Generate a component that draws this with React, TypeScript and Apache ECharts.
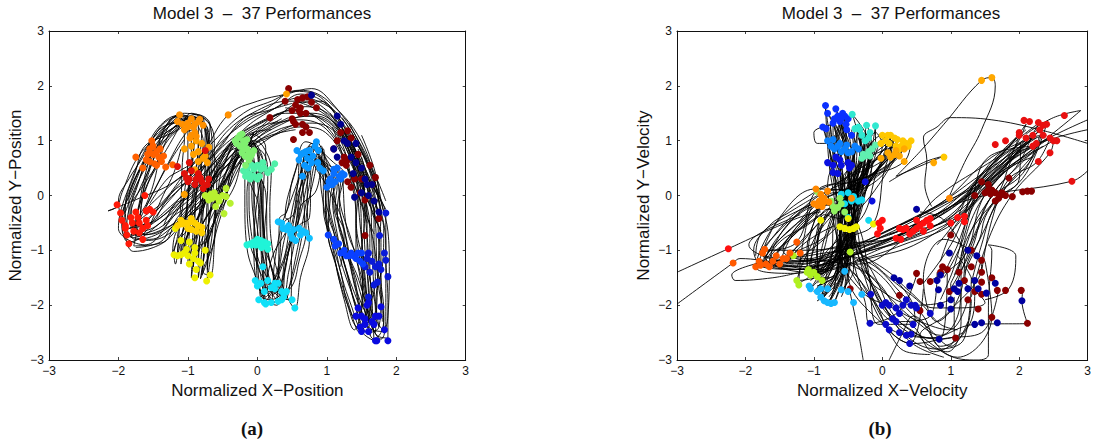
import React, { useEffect, useRef } from "react";
import * as echarts from "echarts";

const tickValues = [-3, -2, -1, 0, 1, 2, 3];
const titleText = "Model 3  \u2013  37 Performances";

// Panel (a) trajectories, flat x,y lists
const posA1 = [1.15,1.45,1.5,.8,1.72,.1,1.85,-.4,1.85,-1.1,1.88,-1.9,1.88,-2.6,1.72,-2.55,1.55,-1.95,1.45,-1.3,1.35,-.8,1.2,-.2,1.15,.3,1,.65,.85,.98,.72,.5,.72,-.3,.75,-.8,.62,-1.5,.54,-2.05,.38,-1.7,.22,-1,.18,-.2,.2,.45,.08,.9,-.05,1,-.38,.4,-.45,-.05,-.6,-.7,-.68,-1.2,-.72,-1.55,-.72,-1,-.68,-.3,-.62,.4,-.62,.95,-.72,1.35,-1.05,1.5,-1.45,1.05,-1.72,.7,-1.95,.05,-2.02,-.2,-2.15,-.28,-1.7,-.05,-1.2,.25,-.8,.75,-.42,1.47,0,1.72,.42,1.85,.78,1.95,1.1,1.65,1.5,.9,1.85,-.1];
const posA2 = [1.2,1.3,1.42,.7,1.6,.15,1.7,-.5,1.72,-1.2,1.78,-1.9,1.75,-2.4,1.6,-2.5,1.42,-2.05,1.3,-1.45,1.2,-1,1.05,-.3,1,.2,.92,.6,.8,.85,.68,.3,.6,-.4,.55,-.75,.45,-1.4,.35,-1.95,.2,-1.75,.12,-1,.08,-.1,.1,.5,0,.85,-.1,1,-.42,.35,-.55,-.1,-.75,-.65,-.85,-1.1,-.85,-1.5,-.8,-1,-.78,-.3,-.72,.4,-.7,.9,-.78,1.3,-1.02,1.42,-1.4,1.1,-1.6,.7,-1.8,.1,-1.95,-.4,-1.85,-.85,-1.4,-.5,-1,.05,-.6,.62,-.2,1.2,.2,1.55,.6,1.78,1,1.55,1.38,.9,1.75,-.05];
const posA3 = [1.3,1.15,1.48,.55,1.55,0,1.62,-.6,1.62,-1.3,1.65,-1.95,1.68,-2.65,1.5,-2.48,1.35,-2,1.22,-1.5,1.12,-.95,1,-.4,.98,.15,.88,.5,.65,.82,.58,.2,.5,-.5,.42,-.65,.32,-1.3,.25,-1.95,.1,-1.6,.05,-.9,.02,0,-.02,.42,-.08,.85,-.15,1.08,-.5,.3,-.65,-.2,-.8,-.55,-.98,-1.05,-.98,-1.3,-.92,-.6,-.88,.1,-.82,.8,-.8,1.25,-.95,1.4,-1.25,1.2,-1.5,.95,-1.72,.2,-1.88,-.55,-1.75,-.8,-1.3,-.6,-.85,0,-.5,.55,-.1,1.05,.3,1.45,.65,1.7,1.05,1.42,1.4,.7,1.7,-.3];
const posA4 = [1.1,1.35,1.35,.75,1.52,.2,1.58,-.5,1.58,-1.25,1.6,-1.85,1.55,-2.25,1.45,-2.4,1.3,-2,1.2,-1.4,1.08,-.9,.95,-.2,.95,.3,.9,.7,.75,.9,.62,.4,.45,-.2,.35,-.55,.25,-1.2,.18,-1.98,0,-1.55,-.02,-.85,-.08,.05,-.05,.5,-.12,.82,-.22,1.12,-.55,.4,-.72,-.02,-.9,-.5,-1.12,-.82,-1.15,-1.1,-1.05,-.5,-.98,.2,-.92,.85,-.92,1.3,-1.12,1.48,-1.3,1.3,-1.55,.85,-1.82,.1,-1.95,-.5,-1.92,-.72,-1.5,-.7,-1.1,-.15,-.7,.35,-.35,.95,.1,1.35,.5,1.55,1,1.32,1.32,.75,1.62,-.2];
const posA5 = [1.05,1.5,1.3,.95,1.5,.35,1.55,-.3,1.5,-1.1,1.52,-1.8,1.5,-2.1,1.42,-2.25,1.28,-1.85,1.15,-1.35,1.02,-.75,.98,-.1,1.02,.4,.95,.75,.78,.95,.7,.55,.58,-.1,.48,-.78,.38,-1.5,.3,-1.85,.15,-1.9,.02,-1.3,-.1,-.9,-.15,.05,-.12,.45,-.18,.75,-.3,1.02,-.62,.35,-.8,-.1,-1,-.5,-1.2,-1.08,-1.18,-1.25,-1.12,-.6,-1.05,.05,-1,.7,-1,1.2,-1.15,1.35,-1.42,1.15,-1.65,.75,-1.88,.05,-1.98,-.35,-2,-.6,-1.62,-.9,-1.25,-.45,-.95,.15,-.6,.8,-.25,1.3,.15,1.6,.55,1.9,.95,1.75,1.3,1,1.55,.1];
const posA6 = [1.25,1.05,1.4,.45,1.48,-.1,1.5,-.7,1.52,-1.4,1.5,-2,1.45,-2.35,1.4,-2.45,1.25,-1.9,1.12,-1.2,1.02,-.72,1.05,-.05,1.08,.25,1,.55,.6,.8,.65,.25,.68,-.5,.65,-.7,.55,-1.3,.42,-1.75,.22,-1.95,.1,-1.2,.05,-.88,.05,.1,.02,.55,-.05,.9,-.25,.98,-.5,.48,-.58,-.02,-.7,-.8,-.9,-.98,-.95,-1.5,-.88,-.8,-.82,-.1,-.8,.6,-.75,1.1,-.88,1.42,-1.1,1.38,-1.35,1.15,-1.5,.65,-1.65,.05,-1.78,-.65,-1.68,-.65,-1.2,-.3,-.75,.2,-.4,.7,0,1.2,.4,1.5,.8,1.5,1.2,1.2,1.5,.5,1.78,-.45];
const posA7 = [1.38,.95,1.55,.3,1.65,-.3,1.78,-.75,1.78,-1.5,1.82,-2.1,1.82,-2.48,1.65,-2.45,1.5,-2.1,1.38,-1.4,1.28,-1.05,1.15,-.3,1.2,.3,.98,.6,.82,.72,.75,.2,.62,-.7,.58,-.95,.48,-1.55,.4,-1.9,.28,-1.65,.15,-.95,.12,.05,.05,.35,.02,.78,-.2,1.05,-.35,.55,-.5,-.15,-.72,-.75,-.78,-1.25,-.8,-1.45,-.75,-.7,-.72,-.05,-.68,.65,-.7,1.15,-.85,1.38,-1.15,1.28,-1.45,.95,-1.6,.45,-1.72,-.25,-1.82,-.75,-1.55,-.55,-1.05,-.05,-.65,.45,-.3,1.05,.2,1.42,.7,1.62,1.1,1.4,1.45,.65,1.72,-.5];
const posA8 = [1.18,1.18,1.38,.62,1.45,.1,1.42,-.55,1.48,-1.2,1.55,-1.7,1.6,-2.3,1.52,-2.38,1.38,-1.85,1.25,-1.25,1.15,-.85,1.02,-.25,1.02,.22,.95,.48,.85,.65,.6,.1,.52,-.35,.38,-.5,.28,-1.4,.08,-1.75,-.02,-1.55,-.05,-.88,0,-.05,.08,.6,.05,.78,-.05,.95,-.4,.6,-.68,.1,-.85,-.4,-1.05,-.98,-1.05,-1.1,-.98,-.45,-.9,.35,-.85,.95,-.85,1.38,-.98,1.45,-1.2,1.38,-1.38,.98,-1.55,.5,-1.7,.1,-1.82,-.35,-1.72,-.75,-1.38,-.25,-.98,.32,-.58,.9,-.15,1.35,.3,1.62,.62,1.85,1.05,1.6,1.4,.85,1.68,.05];
const posA9 = [1.45,.85,1.62,.25,1.72,-.2,1.82,-.6,1.8,-1.3,1.72,-1.7,1.7,-2.2,1.55,-2.32,1.42,-1.75,1.32,-1.2,1.22,-.7,1.1,-.15,1.1,.42,1.05,.45,.9,.65,.82,.35,.7,-.55,.7,-.65,.6,-1.2,.5,-1.65,.32,-1.8,.2,-1.3,.1,-.85,.15,.25,.15,.35,.1,.75,-.15,.9,-.3,.65,-.42,.1,-.58,-.35,-.72,-1.05,-.72,-1.35,-.7,-.85,-.72,.1,-.75,.75,-.72,1.22,-.92,1.32,-1.08,1.25,-1.32,.95,-1.42,.6,-1.58,.2,-1.68,-.3,-1.62,-.72,-1.1,-.45,-.68,-.05,-.3,.55,.05,1.1,.5,1.4,.85,1.45,1.25,1.05,1.55,.4,1.85,-.25];
const posA10 = [1.22,1.42,1.45,.95,1.65,.4,1.75,-.1,1.85,-.9,1.85,-1.6,1.85,-2.3,1.78,-2.62,1.58,-2.2,1.4,-1.6,1.3,-.9,1.18,-.1,1.25,.38,1.1,.6,.7,.98,.55,.45,.4,-.4,.45,-.45,.22,-1.1,.05,-1.85,.02,-1.65,-.15,-.95,-.18,-.1,-.18,.35,-.2,.6,-.33,1,-.6,.55,-.72,.15,-.9,-.3,-1.18,-.7,-1.22,-1.05,-1.15,-.75,-1.1,-.1,-1.08,.6,-1.05,1.05,-1.18,1.45,-1.45,1.2,-1.65,.7,-1.85,.3,-2,-.1,-1.95,-.45,-1.78,-1.02,-1.5,-.95,-1.25,-.75,-.9,-.15,-.55,.4,-.1,.95,.35,1.3,.7,1.45,1.1,1.25,1.42,.4,1.78,-.65];
const posA11 = [1.32,1.32,1.58,.65,1.75,.05,1.68,-.35,1.68,-1,1.7,-1.55,1.62,-2.05,1.6,-2.42,1.45,-1.95,1.28,-1.35,1.15,-.7,1.08,0,1.12,.15,.98,.38,.92,.9,.78,.3,.75,-.4,.6,-.55,.4,-1.15,.22,-1.7,.12,-1.85,.08,-1.15,.02,-.8,-.05,.2,.12,.55,.12,.88,-.08,1.12,-.28,.8,-.52,.2,-.62,-.5,-.82,-.95,-.9,-1.2,-.85,-.95,-.8,-.4,-.7,.15,-.65,.7,-.68,1.3,-.88,1.48,-1.25,1.1,-1.5,.8,-1.75,.35,-1.85,-.1,-1.8,-.55,-1.45,-.45,-1.1,-.02,-.75,.55,-.45,1.15,0,1.55,.45,1.72,.9,1.72,1.25,1.25,1.6,.55,1.82,-.3];
const posA12 = [1.4,.7,1.52,.1,1.58,-.35,1.68,-.9,1.75,-1.7,1.82,-2.25,1.78,-2.5,1.68,-2.62,1.5,-1.85,1.42,-1.5,1.32,-1.1,1.22,-.45,1.05,.05,.88,.42,.72,.72,.62,.15,.55,-.55,.52,-.65,.35,-1.6,.28,-2,.05,-1.8,0,-.75,.02,-.25,-.12,.3,-.15,.68,-.22,.88,-.45,.75,-.68,.2,-.78,-.25,-1,-.7,-1.1,-1.25,-1.1,-.95,-1.02,-.3,-.95,.5,-.9,1.1,-1.05,1.3,-1.18,1.32,-1.5,1.05,-1.55,.55,-1.62,.25,-1.7,-.45,-1.78,-.92,-1.35,-.85,-1.15,-.4,-.78,.1,-.48,.5,-.05,.85,.45,1.25,.8,1.32,1.15,1.1,1.38,.25,1.68,-.7];
const posA13 = [1.08,1.25,1.28,.55,1.4,-.05,1.45,-.8,1.62,-1.5,1.65,-2.1,1.52,-2.45,1.48,-2.5,1.35,-2.15,1.18,-1.55,1.1,-1.05,1,-.5,.92,.1,.88,.55,.7,.75,.52,.35,.42,-.3,.32,-.42,.3,-1.45,.1,-1.95,.08,-1.4,.08,-.75,.08,.2,.02,.4,.02,.65,-.12,1.05,-.32,.2,-.55,-.35,-.65,-.95,-.78,-1.4,-.68,-1.45,-.62,-.9,-.6,-.2,-.58,.5,-.72,.98,-.82,1.45,-1.02,1.35,-1.15,1.45,-1.38,1.1,-1.45,.45,-1.58,-.1,-1.75,-.55,-1.6,-.82,-1.3,-.72,-.9,-.25,-.45,.3,-.2,.8,.25,1.1,.62,1.25,.98,1.15,1.3,.5,1.58,-.5];
const posA14 = [1.5,1.1,1.68,.5,1.8,-.2,1.88,-.65,1.9,-1.3,1.88,-2.2,1.82,-2.45,1.72,-2.3,1.6,-1.95,1.48,-1.05,1.4,-1,1.28,-.55,1.18,.45,1.02,.32,.95,.85,.85,.1,.62,-.2,.58,-.5,.5,-.85,.48,-1.9,.35,-1.88,.18,-1.55,.08,-.6,.02,.45,-.08,.28,-.12,.88,-.05,1.15,-.22,.65,-.45,.3,-.6,-.3,-.7,-1.1,-.82,-1.52,-.78,-1.2,-.7,-.5,-.65,-.1,-.72,.8,-.68,1.25,-.95,1.5,-1.15,1.2,-1.3,1.1,-1.62,.9,-1.75,.45,-1.9,-.2,-1.85,-.6,-1.65,-.4,-1.35,-.1,-1,.48,-.62,1,-.2,1.5,.2,1.72,.6,1.92,1.02,1.72,1.55,.85,1.78,-.4];
// Extra strands that fill the dense bands of panel (a)
const bandA1 = [.6,1.7,1,1.45,1.3,.9,1.42,.3,1.47,-.4,1.53,-1.2,1.57,-1.9,1.55,-2.3];
const bandA2 = [.4,1.6,.85,1.42,1.25,.8,1.5,.05,1.58,-.75,1.62,-1.5,1.7,-2.1,1.62,-2.55];
const bandA3 = [.7,1.8,1.15,1.5,1.55,.65,1.7,-.05,1.75,-.9,1.78,-1.6,1.8,-2.3];
const bandA4 = [.2,1.3,.6,1.38,1,1.2,1.3,.5,1.42,-.2,1.42,-1,1.52,-1.6,1.58,-2.15];
const bandA5 = [1.55,-2.4,1.35,-1.75,1.18,-1.1,1.08,-.55,.98,0,.98,.45,.88,.78];
const bandA6 = [1.62,-2.2,1.45,-1.5,1.35,-1.2,1.2,-.65,1.12,-.1,1.05,.35,.92,.62];
const bandA7 = [.92,.7,.78,.55,.62,-.05,.55,-.55,.42,-1,.32,-1.7,.2,-1.82];
const bandA8 = [.82,.88,.72,.25,.62,-.35,.48,-.9,.4,-1.3,.35,-1.75,.15,-1.75];
const bandA9 = [.68,.75,.6,.3,.48,-.4,.42,-.95,.35,-1.25,.2,-1.62,.08,-1.7];
const bandA10 = [.25,-1.8,.12,-1.45,0,-1.1,-.05,-.4,-.05,.2,-.1,.6,-.18,.95];
const bandA11 = [.32,-1.7,.18,-1.2,.1,-.7,.06,-.15,.02,.25,-.1,.75,-.25,1.05];
const bandA12 = [.18,-1.65,.02,-1.35,-.08,-.75,-.12,-.1,-.12,.25,-.15,.62,-.28,.95];
const bandA13 = [-.12,.95,-.3,.65,-.5,.1,-.72,-.35,-.9,-.8,-.98,-1.15];
const bandA14 = [-.18,.85,-.38,.5,-.6,-.15,-.78,-.5,-.88,-.85,-.92,-1.3];
const bandA15 = [-.25,.8,-.45,.42,-.7,.1,-.88,-.45,-1.08,-.9,-1.1,-1.05];
const bandA16 = [-1,-1.25,-.98,-.7,-.92,-.1,-.88,.45,-.85,.9,-.9,1.3];
const bandA17 = [-.92,-1.3,-.9,-.5,-.88,0,-.82,.5,-.78,1,-.85,1.25];
const bandA18 = [-.85,-1.25,-.82,-.55,-.78,.05,-.75,.55,-.72,1,-.8,1.38];
const bandA19 = [-1.08,-1,-1.02,-.5,-1,.1,-.95,.55,-.95,1,-1.02,1.32];
const bandA20 = [-.88,1.42,-1.1,1.35,-1.38,1,-1.55,.7,-1.7,.3,-1.82,-.25,-1.82,-.6];
const bandA21 = [-.95,1.3,-1.18,1.25,-1.35,.9,-1.48,.5,-1.62,.1,-1.72,-.3,-1.75,-.7];
const bandA22 = [-1,1.45,-1.25,1.4,-1.5,1.05,-1.62,.65,-1.78,.25,-1.9,-.15,-1.92,-.55];
const bandA23 = [-1.85,-.6,-1.55,-.5,-1.25,-.2,-1,.1,-.7,.5,-.4,.85,-.05,1.2,.3,1.35];
const bandA24 = [-1.72,-.72,-1.42,-.6,-1.18,-.35,-.9,-.1,-.62,.35,-.32,.8,.05,1.15,.45,1.42];
const bandA25 = [-1.7,-.6,-1.5,-.35,-1.3,-.05,-1.05,.3,-.75,.55,-.45,.95,-.1,1.25,.3,1.5];
const bandA26 = [-1.85,-.75,-1.55,-.8,-1.2,-.55,-.95,-.25,-.72,.05,-.5,.6,-.15,1.1,.2,1.2];
const bandA27 = [-1.75,-.95,-1.4,-.85,-1.25,-.6,-1.02,-.3,-.82,.2,-.55,.75,-.2,1.05];
const bandA28 = [-1.6,-.45,-1.35,-.15,-1.12,.12,-.85,.45,-.55,.85,-.2,1.4,.15,1.55,.5,1.68];
const bandA29 = [-1.9,-.3,-1.7,.3,-1.42,.85,-1.15,1.25,-.95,1.35];
const bandA30 = [-1.72,-.5,-1.48,.1,-1.28,.6,-1.02,1.15,-.9,1.2];
const bandA31 = [-1.6,-.2,-1.42,.25,-1.22,.7,-1.05,1.02];
const bandA32 = [-1.8,-.1,-1.58,.3,-1.35,.75,-1.1,1.3];
const bandA33 = [-1.55,-.55,-1.35,.02,-1.2,.42,-1.1,.85];
const bandA34 = [-1.65,-.3,-1.4,0,-1.22,.22,-1,.42];
const bandA35 = [-1.45,-.4,-1.25,.02,-1.05,.22,-.85,.3];
const bandA36 = [-1.55,-.15,-1.3,.3,-1.12,.45,-.9,.6];
const bandA37 = [-1.35,-.55,-1.18,-.15,-1,-.05,-.85,.1];
const bandA38 = [-.45,.05,-.3,.5,-.1,.9,.2,1.1,.55,1.2];
const bandA39 = [-.55,-.25,-.4,.15,-.22,.6,-.02,.95,.3,1.2,.6,1.3];
const bandA40 = [-.7,-.35,-.52,.15,-.35,.7,-.1,1.05,.35,1.4];
const bandA41 = [1.5,.7,1.62,.05,1.65,-.85,1.68,-1.7,1.75,-2.4];
const bandA42 = [1.35,.85,1.45,.4,1.52,-.2,1.55,-1,1.6,-1.6,1.65,-2.4];
const bandA43 = [1.62,.3,1.78,-.3,1.75,-1,1.72,-2,1.7,-2.5];
const bandA44 = [1.2,-1.3,1.25,-.7,1.12,-.2,1.15,.2,1.02,.5];

// Panel (b) trajectories
const velB1 = [1,-1.6,1,-1.85,.5,-2,0,-1.75,-.35,-1.3,-.5,-.7,-.6,0,-.62,.5,-.7,1.3,-.55,.9,-.5,.2,-.5,-.5,-.55,-1.1,-.85,-1.85,-.6,-1.2,-.55,-.5,-.55,-.05,-.35,.6,-.3,1.1,-.2,.75,-.35,.2,-.55,-.3,-.8,-.25,-1,-.9,-1.05,-1.4,-.7,-1.2,-.5,-.85,-.45,-.6,-.3,.3,.15,1,.1,.7,-.4,.2,-.9,-.1,-1.4,-.55,-1.65,-1.2,-1.1,-1.3,-.4,-1.05,.35,-.65,1,-.25,1.7,.5,2.2,1.15,2,.6,1.6,0,1.35,-.7,1,-1.6];
const velB2 = [.8,-1.4,.7,-2.2,.2,-2.3,-.15,-1.9,-.45,-1.4,-.6,-.8,-.72,.1,-.78,.6,-.83,1.6,-.75,.95,-.65,.3,-.6,-.4,-.7,-1.2,-1,-1.75,-.72,-1.3,-.65,-.55,-.62,0,-.42,.7,-.4,1.25,-.28,.75,-.48,.1,-.65,-.2,-.95,-.15,-1.15,-.8,-1.22,-1.6,-.85,-1.3,-.6,-.95,-.55,-.55,-.4,.4,0,1.1,.05,.78,-.55,.3,-1,.05,-1.55,-.5,-1.85,-1.3,-1.3,-1.42,-.55,-1.15,.2,-.75,.85,-.35,1.55,.45,2.1,1.3,1.9,.8,1.4,.05,1.15,-.9,.9,-1.5];
const velB3 = [1.3,-1.5,1.2,-2.6,.8,-2.8,.3,-2.5,-.1,-1.7,-.4,-.9,-.5,.1,-.5,.6,-.55,1.4,-.45,.85,-.42,.15,-.4,-.6,-.45,-1,-.7,-1.95,-.5,-1.15,-.48,-.4,-.45,0,-.28,.5,-.23,1.28,-.15,.85,-.3,.25,-.45,-.25,-.7,-.28,-.95,-1,-.95,-1.48,-.6,-1.1,-.42,-.75,-.38,-.57,-.2,.2,.3,.95,.25,.72,-.3,.15,-.85,-.2,-1.3,-.7,-1.5,-1.25,-1,-1.22,-.3,-.95,.5,-.6,1.1,-.15,1.85,.6,2.35,1.28,2.2,.7,1.75,.05,1.5,-.6,1.2,-1.4];
const velB4 = [1.5,-1.2,1.6,-2.2,1.1,-2.95,.6,-2.6,0,-2,-.3,-1.1,-.65,-.1,-.7,.45,-.87,1.25,-.8,1,-.7,.35,-.65,-.3,-.6,-1.3,-.95,-1.65,-.65,-1.4,-.6,-.65,-.5,.05,-.3,.75,-.35,1.05,-.25,.65,-.42,.05,-.6,-.4,-.75,-.1,-1.05,-.7,-1.1,-1.45,-.75,-1.35,-.55,-.8,-.48,-.62,-.25,.55,.2,1.05,.18,.72,-.35,.28,-.95,.1,-1.25,-.85,-1.75,-1.05,-1.2,-1.2,-.45,-.92,.25,-.55,.9,-.1,1.6,.7,2.3,1.1,2.05,.4,1.55,-.1,1.3,-1,.95,-1.8];
const velB5 = [.6,-1.7,.4,-2.7,.05,-2.4,-.3,-1.6,-.55,-1.2,-.7,-.55,-.8,.2,-.72,.7,-.72,1.32,-.62,.8,-.55,.1,-.45,-.7,-.52,-1.25,-.8,-1.97,-.55,-1.3,-.5,-.6,-.6,.02,-.45,.45,-.33,1.2,-.18,.72,-.25,.3,-.5,-.15,-.7,-.35,-.88,-1.1,-1,-1.4,-.65,-1.25,-.45,-.9,-.42,-.6,-.15,.35,.42,1,.32,.62,-.2,.35,-.8,.08,-1.2,-.45,-1.7,-1.15,-1.15,-1.35,-.5,-1.1,.4,-.8,1.15,-.35,1.9,.55,2.45,1.05,2.25,.6,1.85,.3,1.6,-.45,1.45,-1.4];
const velB6 = [.95,-1.3,.85,-2.6,.35,-2.55,-.2,-2.1,-.5,-1.5,-.55,-.6,-.58,.3,-.48,.55,-.68,1.58,-.5,.78,-.48,.3,-.55,-.55,-.5,-1.05,-.75,-1.9,-.6,-1.05,-.52,-.35,-.35,-.1,-.2,.55,-.1,1.27,-.1,.92,-.32,.35,-.6,-.15,-.65,-.22,-.95,-.85,-.88,-1.55,-.55,-1.3,-.4,-.8,-.5,-.42,-.05,.5,.12,1.1,.08,.78,-.5,.1,-.97,.12,-1.5,-.4,-1.8,-1.2,-1.35,-1.2,-.6,-1,.05,-.8,.7,-.42,1.35,.25,2,1.1,1.8,.5,1.45,-.1,1.2,-1.1,.7,-1.55];
const velB7 = [1.7,-1.7,1.45,-2.5,.95,-2.6,.45,-2.7,.05,-2.35,-.35,-1.1,-.45,-.3,-.45,.55,-.8,1.5,-.6,.95,-.45,.05,-.42,-.35,-.62,-.95,-.9,-1.85,-.7,-1.45,-.58,-.7,-.42,-.02,-.15,.8,-.44,1.48,-.3,.68,-.42,.15,-.5,-.05,-.72,-.2,-1.15,-1.2,-1.25,-1.55,-.9,-1.45,-.62,-.98,-.62,-.57,-.35,.15,.05,1,.25,.85,-.25,.3,-.85,-.05,-1.3,-.35,-1.72,-.98,-1.25,-1,-.25,-.85,.6,-.45,1.25,0,2.05,.9,2.3,1.33,1.7,.7,1.35,0,1.05,-1.3,.85,-1.9];
const velB8 = [2.05,-1.75,2.04,-1.92,2.12,-2.33,1.35,-2.35,.7,-2.6,.1,-2.2,-.25,-1.3,-.38,-.5,-.52,.6,-.65,1.45,-.42,.7,-.35,-.2,-.5,-1.15,-.55,-1.72,-.45,-1,-.42,-.15,-.3,.4,-.25,1,-.2,.55,-.38,0,-.68,-.32,-.72,-.2,-1.02,-1.05,-1.08,-1.35,-.72,-1.15,-.52,-.8,-.13,-.52,.08,.65,.38,.9,.2,.82,-.45,.4,-.92,-.1,-1.45,-.9,-1.6,-1.2,-1.05,-1.4,-.2,-1.15,.55,-.85,1.4,-.05,1.95,.75,2.4,1.3,2.1,.4,1.65,-.2,1.45,-.9,1.3,-1.6];
const velB9 = [.5,-1.45,.25,-2.1,-.18,-2.33,-.25,-1.95,-.42,-1.2,-.5,-.4,-.68,.3,-.72,.42,-.58,1.5,-.7,.85,-.6,.15,-.62,-.75,-.65,-.9,-1.05,-1.7,-.75,-1.15,-.7,-.4,-.55,-.15,-.4,.35,-.35,1.25,-.25,.72,-.4,-.1,-.5,-.35,-.6,-.15,-.85,-.8,-.95,-1.5,-.8,-1.1,-.65,-.75,-.5,-.4,-.28,.65,.1,1.1,.12,.7,-.32,.1,-.8,.02,-1.1,-.75,-1.6,-1.3,-.9,-1.35,-.35,-1.18,.3,-.9,1.05,-.5,1.65,.3,2.5,1,2.45,.78,1.9,.02,1.55,-.8,1.3,-1.85];
const velB10 = [1.1,-1.1,1.35,-1.75,1.25,-2.4,.83,-2.62,.25,-2.3,-.1,-1.5,-.42,-.65,-.48,.45,-.62,1.35,-.38,.9,-.55,.25,-.52,-.25,-.42,-1.35,-.6,-1.72,-.52,-.95,-.4,-.3,-.3,-.08,-.25,.7,-.1,1.15,0,.9,-.28,.4,-.62,-.05,-.62,-.05,-.8,-.7,-1.3,-1.1,-.95,-1.2,-.55,-1.05,-.38,-.45,-.1,.45,.35,.95,.32,.85,-.1,.35,-.78,-.12,-1.38,-.65,-1.82,-1.3,-1.4,-1.3,-.7,-1.2,.1,-.7,.95,-.45,1.45,.4,2.15,1.05,1.65,.35,1.3,-.15,1,-.9,.6,-1.6];
const velB11 = [.2,-1.55,.45,-2,.48,-2.35,-.05,-2.35,-.2,-1.4,-.35,-.55,-.62,-.1,-.6,.65,-.55,1.45,-.65,.9,-.38,.15,-.55,-.85,-.72,-1.05,-.88,-1.85,-.62,-1.38,-.4,-.8,-.35,-.1,-.22,.45,-.18,.95,-.15,.8,-.2,.2,-.5,-.2,-.75,-.28,-1.1,-.95,-1.1,-1.4,-.78,-1.5,-.58,-1.1,-.42,-.65,-.32,.2,.18,1.05,.05,.68,-.45,.05,-.88,-.2,-1.2,-.6,-1.55,-1.1,-1.1,-1.15,-.35,-1.25,.45,-.7,1.2,-.25,1.55,.7,2.28,.9,1.95,.75,1.72,.1,1.42,-.55,1.05,-1.75];
const velB12 = [1.25,-1.9,.98,-2.45,.55,-2.3,.15,-2.05,-.3,-1.75,-.62,-1,-.55,.2,-.68,.62,-.76,1.3,-.72,.85,-.58,.35,-.68,-.5,-.6,-1.4,-.95,-1.92,-.58,-1.25,-.62,-.45,-.5,.02,-.32,.5,-.25,1.15,-.3,.7,-.52,-.02,-.62,-.42,-.85,-.35,-.98,-1.25,-1.02,-1.45,-.82,-1.38,-.52,-.75,-.55,-.62,-.38,.5,.22,.9,.15,.75,-.38,.18,-.9,.02,-1.52,-.75,-1.75,-1.25,-1.2,-1.1,-.48,-.88,.28,-.72,.78,-.05,1.5,.55,2.02,.95,2,.3,1.68,-.05,1.25,-.75,1.1,-1.45];

// Long strays and loops in panel (b)
const strayB1 = [-3,-1.4,-2.25,-.97,-1.6,-.6,-1.1,-.35,-.9,-.3];
const strayB2 = [-3,-1.98,-2.18,-1.23,-2.08,-1.15,-1.5,-1.25,-1,-1.4];
const strayB3 = [-.45,-1.1,.4,-.68,1.2,-.1,2.77,.26,3,.45];
const strayB4 = [-.1,-.75,.7,-.25,1.7,.4,2.9,1.55,2.5,1.42,2.1,1.12];
const strayB5 = [.1,-.72,1,-.2,2,.75,3,1.38];
const strayB6 = [.25,-.55,1.1,0,2.1,.85,3,1.2];
const strayB7 = [.1,.25,.6,.6,.9,.72,.2,.35,.55,.8,.9,1.3,1.45,2.1,1.6,2.15,1.65,2,1.45,1.2,1.2,.6,.95,-.1];
const strayB8 = [.72,-.2,.62,.2,.65,.65,.6,1.05,.8,1.25,1,1.42,1.6,1.38,2.3,1.2,3,.95];
const strayB9 = [-.48,-1.72,-.35,-2.5,-.28,-3];
const strayB10 = [.1,-3,.3,-2.5,.45,-2.2,.95,-2.9,1.4,-3,1.55,-2.9,1.55,-2,1.6,-1,1.55,-.9,1.95,-1.1,1.85,-1.7,1.5,-1.9];
const strayB11 = [-.7,1.3,-1,1.15,-.95,.95,-.7,.95];
const strayB12 = [-1.7,-1.2,-2.2,-1.45,-2.15,-1.55,-1.6,-1.5,-1.2,-1.4];
const strayB13 = [-1.2,-.35,-1.8,-.7,-1.95,-.9,-1.75,-1.1,-1.3,-1.25];
const strayB14 = [.55,-.3,.9,-.45,1.2,-1.2,1.1,-1.9,.8,-2.3,.6,-1.5,.9,-.8,1.45,-1.3,.95,-2.15,.55,-2.55,.95,-2.85,1.15,-2.3,1.15,-1.2];
// Extra strands that fill the dense bands of panel (b)
const bandB1 = [-.8,1.2,-.75,.6,-.68,0,-.62,-.6,-.7,-1.15,-.95,-1.6];
const bandB2 = [-.7,1.1,-.62,.55,-.58,-.1,-.6,-.7,-.65,-1.3,-.88,-1.75];
const bandB3 = [-.55,1.25,-.5,.6,-.48,-.2,-.52,-.85,-.6,-1.45,-.78,-1.85];
const bandB4 = [-.45,1.2,-.4,.5,-.42,-.3,-.45,-.9,-.5,-1.5,-.6,-1.85];
const bandB5 = [-.3,1.1,-.35,.45,-.38,-.2,-.5,-.8,-.7,-1.2,-1,-1.45];
const bandB6 = [-.18,.9,-.28,.2,-.45,-.5,-.68,-1,-.9,-1.2,-1.2,-1.35];
const bandB7 = [-.05,.95,-.2,.3,-.35,-.45,-.55,-.95,-.8,-1.3,-1.05,-1.55];
const bandB8 = [.05,.85,-.1,.35,-.25,-.3,-.5,-.7,-.62,-1.15,-.7,-1.7];
const bandB9 = [.2,.7,-.05,.2,-.3,-.2,-.55,-.5,-.65,-1,-.65,-1.55];
const bandB10 = [-.9,-.05,-1.25,-.35,-1.55,-.7,-1.75,-1.05,-1.5,-1.28,-1,-1.22,-.55,-1];
const bandB11 = [-.85,-.15,-1.15,-.55,-1.4,-.85,-1.62,-1.1,-1.35,-1.22,-.9,-1.15,-.45,-1.05];
const bandB12 = [-.95,0,-1.35,-.3,-1.65,-.55,-1.88,-1,-1.7,-1.32,-1.2,-1.35,-.7,-1.15];
const bandB13 = [-.8,-.1,-1.1,-.4,-1.3,-.65,-1.45,-1,-1.3,-1.12,-.85,-1.05,-.4,-.95];
const bandB14 = [-.75,-.3,-1,-.6,-1.2,-.85,-1.35,-1.15,-1.1,-1.2,-.7,-1.02,-.3,-.9];
const bandB15 = [-.55,-1.15,-.15,-.95,.25,-.72,.6,-.45,1,-.2,1.45,.25,1.9,.75,2.25,1.05];
const bandB16 = [-.6,-1.05,-.1,-.8,.4,-.5,.8,-.25,1.2,.05,1.6,.45,2,.95,2.3,1.22];
const bandB17 = [-.5,-1,0,-.68,.45,-.42,.9,-.1,1.35,.3,1.75,.65,2.15,1,2.4,1.1];
const bandB18 = [-.45,-1.1,.1,-.9,.55,-.7,.95,-.4,1.3,0,1.65,.35,2,.65,2.35,.9];
const bandB19 = [-.35,-1.15,.2,-.85,.7,-.6,1.1,-.3,1.45,.1,1.8,.55,2.15,.85,2.45,1.05];
const bandB20 = [2.2,1.05,1.95,.75,1.7,.4,1.45,.05,1.25,-.4,1.1,-.9,.95,-1.3];
const bandB21 = [2.35,1,2,.55,1.75,.25,1.55,-.1,1.35,-.5,1.2,-1,1.05,-1.45];
const bandB22 = [2.1,1.2,1.8,.85,1.55,.5,1.3,.1,1.2,-.35,1,-.7,.85,-1.2];
const bandB23 = [2.25,.8,1.9,.3,1.65,-.1,1.5,-.4,1.42,-.8,1.25,-1.2,1.2,-1.6];
const bandB24 = [-.5,-1.25,-.2,-1.45,.1,-1.85,.45,-2.25,.85,-2.55,1.1,-2.2,1.15,-1.7];
const bandB25 = [-.45,-1.1,-.1,-1.3,.25,-1.75,.6,-2.2,.85,-2.75,1.2,-2.5,1.3,-1.9];
const bandB26 = [-.55,-1.05,-.25,-1.25,.05,-1.55,.35,-2.05,.7,-2.45,1,-2.75,1.25,-2.3];
const bandB27 = [-.4,-1.25,-.05,-1.6,.2,-2.05,.5,-2.45,.75,-2.85,1.05,-2.6,1.05,-1.85];
const bandB28 = [-.35,-1.05,.1,-1.4,.4,-1.75,.75,-2.05,1.05,-2.05,1.5,-1.95,1.2,-1.6];
const bandB29 = [-.7,-.55,-1,-.75,-1.25,-1,-1.4,-1.25];
const bandB30 = [-.85,-.3,-1.2,-.6,-1.5,-.85,-1.7,-1.18];
const bandB31 = [-.6,-.5,-.9,-.85,-1.15,-1.1,-1.25,-1.3];
const bandB32 = [-1,-.15,-1.45,-.42,-1.78,-.72,-1.85,-1.1];
const bandB33 = [-.7,-.15,-1.05,-.5,-1.35,-.75,-1.55,-1.05];
const bandB34 = [-.5,-.65,-.8,-1,-.95,-1.25,-1.15,-1.4];
const bandB35 = [.95,-.75,1.2,-.3,1.4,.2,1.7,.6,2.1,.95];
const bandB36 = [.8,-.9,1.05,-.5,1.25,0,1.55,.55,1.95,1.05];
const bandB37 = [1.15,-1.1,1.3,-.45,1.55,.1,1.85,.5,2.2,.7];
const bandB38 = [-.3,-1.35,0,-1.95,.25,-2.45,.5,-2.75,.9,-2.95];
const bandB39 = [-.25,-1.1,.15,-1.55,.55,-1.95,.85,-2.35,1.1,-2.45];
const bandB40 = [-.42,-1.4,-.1,-1.95,.1,-2.5,.35,-2.85,.7,-2.9];

const positionPaths = [posA1,posA2,posA3,posA4,posA5,posA6,posA7,posA8,posA9,posA10,posA11,posA12,posA13,posA14,bandA1,bandA2,bandA3,bandA4,bandA5,bandA6,bandA7,bandA8,bandA9,bandA10,bandA11,bandA12,bandA13,bandA14,bandA15,bandA16,bandA17,bandA18,bandA19,bandA20,bandA21,bandA22,bandA23,bandA24,bandA25,bandA26,bandA27,bandA28,bandA29,bandA30,bandA31,bandA32,bandA33,bandA34,bandA35,bandA36,bandA37,bandA38,bandA39,bandA40,bandA41,bandA42,bandA43,bandA44];
const velocityPaths = [velB1,velB2,velB3,velB4,velB5,velB6,velB7,velB8,velB9,velB10,velB11,velB12,strayB1,strayB2,strayB3,strayB4,strayB5,strayB6,strayB7,strayB8,strayB9,strayB10,strayB11,strayB12,strayB13,strayB14,bandB1,bandB2,bandB3,bandB4,bandB5,bandB6,bandB7,bandB8,bandB9,bandB10,bandB11,bandB12,bandB13,bandB14,bandB15,bandB16,bandB17,bandB18,bandB19,bandB20,bandB21,bandB22,bandB23,bandB24,bandB25,bandB26,bandB27,bandB28,bandB29,bandB30,bandB31,bandB32,bandB33,bandB34,bandB35,bandB36,bandB37,bandB38,bandB39,bandB40];

// Panel (a) dots, grouped by phase colour
const aRedStart = [[-2.02,-.17],[-1.97,-.32],[-1.95,-.45],[-1.9,-.55],[-1.88,-.72],[-1.9,-.6],[-1.85,-.88],[-1.8,-.5],[-1.78,-.65],[-1.72,-.4],[-1.7,-.68],[-1.65,-.8],[-1.6,-.28],[-1.6,-.45],[-1.75,-.3],[-1.58,-.55],[-1.62,0],[-1.55,-.25],[-1.5,-.3],[-1.82,-.4],[-1.7,-.5],[-1.65,-.6]];
const aOrangeRed = [[-1.75,.7],[-1.65,.5],[-1.6,.65],[-1.55,.85],[-1.52,1],[-1.5,.75],[-1.48,.58],[-1.42,.7],[-1.4,.85],[-1.38,.62],[-1.35,.72],[-1.32,.52],[-1.5,.9],[-1.58,.75],[-1.45,.55],[-1.22,.56],[-1.45,.8],[-1.55,.62]];
const aOrangeTop = [[-1.12,1.47],[-1.15,1.35],[-1.08,1.3],[-1.05,1.2],[-1,1.32],[-.95,1.4],[-.92,1.25],[-.9,1.15],[-.85,1.35],[-.83,1.39],[-.78,1.28],[-.95,1.1],[-.9,1.3],[-1,1.25],[-.97,1.05],[-.88,1.08],[-.42,1.47]];
const aOrangeMid = [[-1.05,.85],[-.95,.9],[-.92,.75],[-.85,.8],[-.8,.95],[-.78,.68],[-.72,.6],[-.85,.62],[-.9,.47],[-1.05,.02],[-.75,.72],[-.7,.88],[-.88,1],[.42,1.85]];
const aRedMid = [[-1.15,.53],[-1.05,.4],[-1,.25],[-.98,.3],[-.9,.2],[-.85,.4],[-.8,.25],[-.78,.13],[-.72,.2],[-.75,.82],[-.98,.6],[-.88,.3],[-1.02,.32],[-.95,.45],[-.7,.3],[-.82,.32]];
const aLime = [[-.75,0],[-.7,-.08],[-.65,-.05],[-.6,-.2],[-.55,-.1],[-.62,.05],[-.72,-.02],[-.5,0],[-.45,.13],[-.45,-.02],[-.39,-.14],[-.48,-.33],[-.58,-.03],[-.67,.02]];
const aGold = [[-1.15,-.55],[-1.1,-.45],[-1.05,-.5],[-1,-.5],[-.95,-.48],[-.9,-.5],[-1,-.6],[-.95,-.62],[-.88,-.65],[-.8,-.58],[-.8,-.68],[-.85,-.55],[-1.08,-.52],[-.95,-.42]];
const aYellow = [[-1.2,-1.08],[-1.15,-1.1],[-1.1,-.82],[-1.1,-1.08],[-1.05,-1.05],[-1.02,-.98],[-1,-1.1],[-.98,-.85],[-.98,-1.25],[-.9,-1.05],[-.9,-.95],[-.85,-1.2],[-.82,-1.23],[-.88,-1.35],[-.9,-1.5],[-.75,-1],[-.73,-1.56],[-.68,-1.45],[-.92,-1.15],[-1.18,-.6]];
const aGreen = [[-.32,1],[-.28,1.05],[-.25,1.1],[-.22,1.12],[-.2,1],[-.18,.95],[-.15,1.02],[-.25,.9],[-.2,.85],[-.15,.85],[-.12,.78],[-.1,.7],[-.08,.75],[-.18,.72],[-.12,.65],[-.05,.82],[-.17,.55],[-.3,.95],[-.22,.78]];
const aAqua = [[-.2,.45],[-.17,.35],[-.12,.4],[-.1,.3],[-.05,.35],[-.05,.48],[0,.55],[0,.3],[.05,.48],[.1,.5],[.08,.6],[.03,.35],[.2,.48],[.25,.58],[-.15,.5],[-.08,.55],[.15,.42]];
const aTeal = [[-.15,-.9],[-.1,-.88],[-.05,-.85],[-.02,-.9],[0,-.8],[.03,-.88],[.05,-.82],[.08,-.9],[.1,-.85],[.12,-.92],[.15,-.88],[.15,-.98],[-.08,-.9],[.06,-.95]];
const aCyan = [[.08,-1.3],[-.03,-1.55],[0,-1.65],[.05,-1.6],[.1,-1.75],[.15,-1.55],[.2,-1.68],[.25,-1.7],[.3,-1.6],[.35,-1.75],[.38,-1.85],[.02,-1.9],[.12,-1.98],[.1,-1.95],[.2,-1.95],[.3,-1.93],[.35,-1.9],[.5,-1.9],[.54,-2.05],[.42,-1.75],[.25,-1.6]];
const aSky = [[.3,-.48],[.35,-.5],[.37,-.6],[.42,-.62],[.45,-.55],[.48,-.7],[.5,-.78],[.52,-.62],[.55,-.82],[.6,-.6],[.62,-.72],[.65,-.65],[.7,-.68],[.75,-.78],[.42,-.6]];
const aAzure = [[.57,.82],[.6,.65],[.63,.75],[.65,.35],[.68,.55],[.7,.8],[.72,.68],[.75,.82],[.78,.6],[.8,.72],[.83,.9],[.85,.98],[.87,.6],[.88,.82],[.9,.5],[.73,.5],[.95,.45],[.67,.78]];
const aBlueHigh = [[1,.15],[1.03,.25],[1.05,.3],[1.08,.2],[1.1,.4],[1.12,.25],[1.15,.5],[1.18,.35],[1.2,.3],[1.22,.4],[1.25,.38],[1.1,.48],[1.05,.2]];
const aBlueMid = [[1.02,-.72],[1.1,-.8],[1.12,-.92],[1.17,-.88],[1.2,-1.05],[1.25,-1],[1.28,-1.1],[1.32,-1.1],[1.38,-1.1],[1.42,-1.15],[1.45,-1.05],[1.48,-1.2],[1.5,-1.05],[1.52,-1.25],[1.35,-1.05]];
const aBlueLow = [[1.6,-1.05],[1.55,-1.3],[1.58,-1.15],[1.62,-1.4],[1.65,-1.2],[1.7,-1.3],[1.75,-1.25],[1.78,-1.35],[1.83,-1.05],[1.85,-1.18],[1.88,-1.48],[1.73,-1.58],[1.68,-1.63],[1.76,-.73],[1.85,-.32],[1.6,-1.85]];
const aBlueBottom = [[1.45,-2.05],[1.5,-2.2],[1.55,-2.25],[1.58,-2],[1.6,-1.95],[1.48,-2.4],[1.5,-2.48],[1.6,-2.48],[1.65,-2.3],[1.7,-2.2],[1.75,-2.2],[1.7,-2.65],[1.72,-2.65],[1.83,-2.45],[1.88,-2.65],[1.42,-2.2],[1.55,-2.35],[1.68,-2.35],[1.78,-2.03]];
const aNavy = [[1.15,1.45],[1.2,1.3],[.78,1.83],[1.25,1],[1.3,.95],[1.1,.85],[1.15,.7],[1.42,.95],[1.35,.7],[1.42,.6],[1.5,.5],[1.38,.4],[1.55,.3],[1.58,.2],[1.65,.2],[1.5,.05],[1.4,-.03],[1.6,0],[1.68,-.1],[1.75,-.3]];
const aDarkRed = [[.45,1.95],[.4,1.72],[.5,1.55],[.55,1.65],[.58,1.75],[.62,1.5],[.65,1.78],[.7,1.5],[.72,1.8],[.78,1.7],[.6,1.55],[.52,1.35],[.5,1.4],[.65,1.3],[.7,1.25],[.65,1.15],[.75,1.15],[.52,1.02],[.18,1.42],[.62,1.6],[.85,1.6],[.55,1.3],[1.1,.85],[1.15,1],[1.2,1.15],[1.3,1.18],[1.25,.7],[1.22,.6],[1.28,.55],[1.3,.65],[1.4,.3],[1.3,.25],[1.35,.15],[1.5,.3],[1.62,.55],[1.7,.33],[1.55,-.08],[1.65,.2],[1.75,-.42],[1.55,-.73],[1.45,.75],[1.35,1.05],[1.48,.05]];

// Panel (b) dots
const bBlueTop = [[-.83,1.64],[-.8,1.5],[-.68,1.58],[-.87,1.25],[-.82,1.22],[-.72,1.32],[-.7,1.4],[-.65,1.45],[-.62,1.35],[-.58,1.5],[-.55,1.45],[-.53,1.3],[-.52,1.2],[-.5,1.4],[-.68,1.4],[-.6,1.4],[-.45,1.1]];
const bAzure = [[-.8,1],[-.75,.9],[-.7,.85],[-.65,.9],[-.6,.8],[-.55,.85],[-.5,.78],[-.45,.8],[-.4,.9],[-.35,.85],[-.62,.95],[-.52,.92],[-.72,1.02]];
const bBlueMid = [[-.8,.6],[-.72,.55],[-.72,.42],[-.68,.7],[-.65,.4],[-.62,.65],[-.6,.55],[-.5,.6],[-.48,.5],[-.45,.55],[-.25,.25],[-.15,-.1]];
const bAqua = [[-.44,1.48],[-.4,1.22],[-.35,1.25],[-.3,1.1],[-.25,1],[-.23,1.28],[-.1,1.27],[-.2,1.05],[-.33,1.2],[-.18,1.15]];
const bTeal = [[-.3,.68],[-.25,.72],[-.2,.8],[-.15,.85],[-.1,.92],[-.28,.75],[-.18,.72]];
const bGold = [[0,1.1],[.05,1],[.1,.95],[.12,1.1],[.18,1.05],[.2,.9],[.25,.85],[.3,1],[.35,.95],[.42,1],[.38,.9],[.08,1.1],[-.02,.95],[.22,1.02],[.9,.7],[.28,.9]];
const bAmber = [[-.02,.68],[.08,.78],[.12,.7],[.18,.75],[.25,.72],[.32,.62],[.75,.6],[.2,.82],[.32,.85],[1.45,2.1],[1.6,2.15]];
const bOrange = [[-.97,.12],[-.9,.02],[-.85,-.05],[-.8,.08],[-.92,-.1],[-1,-.15],[-.95,-.18],[-.88,-.2],[-.85,-.12],[-.78,-.12],[-.45,-.05],[.98,-.05]];
const bGreen = [[-.95,.07],[-.75,-.1],[-.72,-.2],[-.7,-.28],[-.65,-.22],[-.6,-.15],[-.62,-.05],[-.55,-.3]];
const bCyan = [[-.6,.02],[-.5,.05],[-.55,-.15],[-.45,-.1],[-.42,-.02],[-.35,-.1],[-.3,-.08],[-.5,-.4],[-.2,-.45]];
const bYellow = [[-.62,-.57],[-.5,-.42],[-.55,-.6],[-.48,-.62],[-.42,-.6],[-.38,-.57],[-.13,-.52],[-.9,-.45]];
const bLime = [[-.47,-1.03],[-1.25,-1.55],[-1.22,-1.63],[-1.1,-1.4],[-1.05,-1.45],[-1,-1.4],[-.95,-1.48],[-.88,-1.55],[-1.3,-1.1],[-1.08,-1.35]];
const bSky = [[-1.07,-1.65],[-1.05,-1.7],[-.95,-1.75],[-.9,-1.85],[-.85,-1.92],[-.8,-1.95],[-.75,-1.97],[-.7,-1.95],[-.9,-1.7],[-.8,-1.7],[-.6,-1.72],[-.55,-1.38],[-.42,-1.95],[-.3,-1.8],[-.5,-1.75]];
const bOrangeRed = [[-2.18,-1.23],[-1.85,-1.3],[-1.8,-1.2],[-1.75,-1.05],[-1.72,-.98],[-1.7,-1.25],[-1.65,-1.3],[-1.6,-1.2],[-1.55,-1.1],[-1.5,-1.25],[-1.45,-1.15],[-1.4,-1.15],[-1.35,-1.05],[-1.25,-.85],[-1.2,-1.05],[-1.78,-1.27]];
const bRedLow = [[-2.25,-.97],[0,-.45],[-.05,-.5],[-.03,-.6],[-.07,-.7],[.25,-.6],[.2,-.78],[.3,-.62],[.35,-.6],[.4,-.7],[.45,-.65],[.5,-.45],[.5,-.6],[.55,-.55],[.6,-.5],[.65,-.45],[.7,-.42],[.7,-.55],[.27,-.8],[.6,-.65],[1,-.5],[1.1,-.4],[1.2,-.38],[1.2,-.48]];
const bRedTop = [[2.07,1.37],[2.15,1.35],[2.28,1.33],[2.35,1.28],[2.4,1.3],[2.66,1.46],[1.65,.93],[1.8,1],[2,1.15],[2,1.1],[2.2,1.1],[2.3,1.2],[2.45,1.05],[2.5,1],[2.55,1],[2.45,.78],[2.28,.62],[2.2,.9],[2.35,1.1],[2.77,.26],[2.1,1.05],[2.25,.95]];
const bDarkRed = [[1.35,0],[1.45,.25],[1.5,.05],[1.55,.2],[1.6,.1],[1.65,.05],[1.7,-.05],[1.75,.05],[1.8,0],[1.9,-.02],[2.05,.07],[2.12,.08],[2.18,.08],[1.65,-.1],[1.72,0],[1.55,.1],[1.85,.32],[1.58,.03],[.5,-1.42],[.55,-1.57],[.7,-1.57],[.85,-1.4],[.88,-1.3],[.95,-1.35],[1,-.72],[.98,-1.75],[1.12,-1.4],[1.2,-1.55],[1.3,-1.3],[1.45,-1.4],[1.45,-1.58],[1.6,-1.5],[1.68,-1.73],[1.8,-1.73],[2.03,-1.73],[1.35,-1.75],[1.45,-1.8],[1.25,-1.9],[1.4,-2.07],[1.6,-2.22],[2.12,-2.33],[1.07,-2.6],[.55,-2.1],[.25,-1.82],[-.47,-1.7],[1.45,-1.18],[1.3,-1]];
const bNavy = [[.17,-1.5],[.25,-1.55],[.4,-1.65],[.5,-.25],[.8,-1.55],[.85,-1.45],[.82,-1.72],[.98,-1.05],[1.05,-1.7],[1.1,-1.75],[1.12,-1.6],[1.25,-1],[1.25,-1.7],[1.35,-1.55],[1.4,-1.7],[1.38,-1.1],[1.52,-1.78],[1.65,-1.6],[2.04,-1.92],[1.35,-2.35],[1.45,-2.32],[1.68,-2.32],[.85,-2],[1,-2.07],[1,-1.9],[.83,-2.62]];
const bBlueLow = [[-.17,-1.8],[0,-2],[.05,-1.95],[.1,-2],[.2,-2.05],[.25,-2.15],[.3,-2],[.35,-1.9],[.42,-2],[.48,-2],[.2,-2.3],[.05,-2.35],[.1,-2.45],[.25,-2.5],[.35,-2.55],[.42,-2.53],[.4,-2.7],[.45,-2.35],[-.18,-2.33],[.15,-2.25],[.7,-2.15],[.5,-2.05]];

const groupsA: [number[][], string][] = [
  [aDarkRed,"#8a0000"],[aNavy,"#00008f"],[aBlueBottom,"#0a0ae0"],[aBlueLow,"#0a1ad8"],[aBlueMid,"#0a40ff"],[aBlueHigh,"#0a70ff"],[aAzure,"#0a98ff"],[aSky,"#10c0ff"],[aCyan,"#10e0f8"],[aTeal,"#20f4d8"],[aAqua,"#50f0a8"],[aGreen,"#80f070"],[aLime,"#b8f030"],[aYellow,"#eef000"],[aGold,"#ffd000"],[aOrangeMid,"#ffa000"],[aOrangeTop,"#ff9000"],[aOrangeRed,"#ff6000"],[aRedStart,"#ff1a08"],[aRedMid,"#e0100a"],
];
const groupsB: [number[][], string][] = [
  [bDarkRed,"#8a0000"],[bNavy,"#0000a0"],[bBlueLow,"#0a0ac8"],[bBlueMid,"#0a10e0"],[bBlueTop,"#0a30ff"],[bAzure,"#0a80ff"],[bSky,"#18b8ff"],[bCyan,"#10d8f0"],[bAqua,"#30e8d0"],[bTeal,"#60f0b0"],[bGreen,"#90f060"],[bLime,"#b0f020"],[bYellow,"#f0f000"],[bGold,"#ffc800"],[bAmber,"#ffa800"],[bOrange,"#ff8800"],[bOrangeRed,"#ff5a00"],[bRedLow,"#ff1010"],[bRedTop,"#e81010"],
];

const pairs = (flat: number[]) => {
  const out: number[][] = [];
  for (let i = 0; i + 1 < flat.length; i += 2) out.push([flat[i], flat[i + 1]]);
  return out;
};

const font = "'Liberation Sans', Arial, sans-serif";
const fmt = (v: number) => String(v).replace("-", "\u2212");

const axisBase = {
  type: "value" as const,
  min: -3,
  max: 3,
  interval: 1,
  splitLine: { show: false },
  axisLine: { show: true, onZero: false, lineStyle: { color: "#111", width: 1 } },
  axisTick: { show: true, inside: true, length: 3, lineStyle: { color: "#111", width: 0.8 } },
};

function panelAxes(grid: number, xName: string, yName: string) {
  return {
    x: [
      { ...axisBase, gridIndex: grid, position: "bottom", name: xName, nameLocation: "middle", nameGap: 15,
        nameTextStyle: { fontFamily: font, fontSize: 17, color: "#111" },
        axisLabel: { formatter: fmt, fontFamily: font, fontSize: 12, color: "#111", margin: 5, showMinLabel: true, showMaxLabel: true } },
      { ...axisBase, gridIndex: grid, position: "top", axisLabel: { show: false } },
    ],
    y: [
      { ...axisBase, gridIndex: grid, position: "left", name: yName, nameLocation: "middle", nameGap: 25,
        nameTextStyle: { fontFamily: font, fontSize: 17, color: "#111" },
        axisLabel: { formatter: fmt, fontFamily: font, fontSize: 12, color: "#111", margin: 5, showMinLabel: true, showMaxLabel: true } },
      { ...axisBase, gridIndex: grid, position: "right", axisLabel: { show: false } },
    ],
  };
}

function panelSeries(paths: number[][], groups: [number[][], string][], axisIdx: number) {
  const lines = paths.map((p) => ({
    type: "line", xAxisIndex: axisIdx, yAxisIndex: axisIdx, data: pairs(p), smooth: 0.4, showSymbol: false, symbol: "none",
    lineStyle: { color: "#000", width: 0.9 }, z: 2, silent: true, clip: true,
  }));
  const dots = groups.map(([data, color]) => ({
    type: "scatter", xAxisIndex: axisIdx, yAxisIndex: axisIdx, data, symbol: "circle", symbolSize: 7,
    itemStyle: { color, opacity: 1 }, z: 3, silent: true, clip: true,
  }));
  return [...lines, ...dots];
}

export default function App() {
  const ref = useRef<HTMLDivElement>(null);
  useEffect(() => {
    if (!ref.current) return;
    const chart = echarts.init(ref.current, null, { renderer: "svg" });
    const a = panelAxes(0, "Normalized X\u2212Position", "Normalized Y\u2212Position");
    const b = panelAxes(1, "Normalized X\u2212Velocity", "Normalized Y\u2212Velocity");
    chart.setOption({
      animation: false,
      backgroundColor: "#fff",
      title: [
        { text: titleText, left: 257, top: 0, textAlign: "center", textStyle: { fontFamily: font, fontSize: 17, fontWeight: "normal", color: "#111" } },
        { text: titleText, left: 886, top: 0, textAlign: "center", textStyle: { fontFamily: font, fontSize: 17, fontWeight: "normal", color: "#111" } },
        { text: "(a)", left: 247, top: 414, textAlign: "center", textStyle: { fontFamily: "'Liberation Serif', serif", fontSize: 19, fontWeight: "bold", color: "#111" } },
        { text: "(b)", left: 875, top: 414, textAlign: "center", textStyle: { fontFamily: "'Liberation Serif', serif", fontSize: 19, fontWeight: "bold", color: "#111" } },
      ],
      grid: [
        { left: 49, top: 31, width: 416.7, height: 329 },
        { left: 677, top: 31, width: 416.7, height: 329 },
      ],
      xAxis: [...a.x, ...b.x],
      yAxis: [...a.y, ...b.y],
      series: [...panelSeries(positionPaths, groupsA, 0), ...panelSeries(velocityPaths, groupsB, 2)],
    });
    return () => chart.dispose();
  }, []);
  return <div ref={ref} style={{ position: "fixed", left: 0, top: 0, width: 1094, height: 441 }} />;
}
